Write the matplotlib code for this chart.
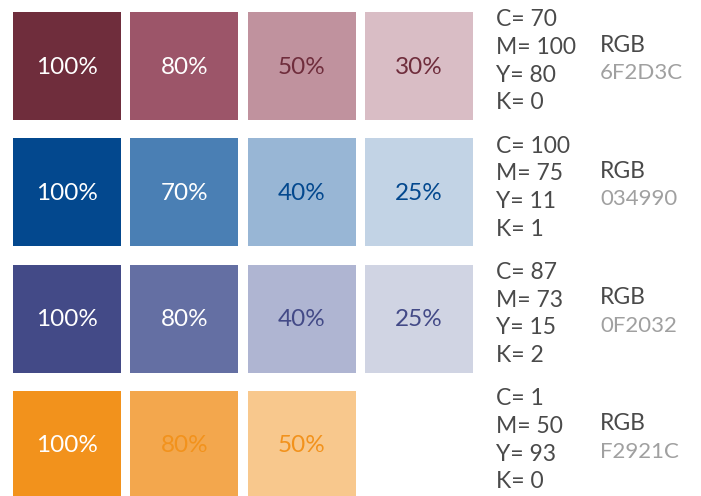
import matplotlib.pyplot as plt
from matplotlib.patches import Rectangle

# swatch colours per row (base colour first, then tints)
swatch_colors = [
    ['#6F2D3C', '#9C5569', '#C0929E', '#D9BDC5'],
    ['#03488E', '#4A7FB4', '#98B6D5', '#C2D3E5'],
    ['#434A87', '#646FA3', '#AFB5D2', '#D0D4E3'],
    ['#F2921C', '#F3A74D', '#F8C88D'],
]
tint_labels = [
    ['100%', '80%', '50%', '30%'],
    ['100%', '70%', '40%', '25%'],
    ['100%', '80%', '40%', '25%'],
    ['100%', '80%', '50%'],
]
label_colors = [
    ['white', 'white', '#6F2D3C', '#6F2D3C'],
    ['white', 'white', '#03488E', '#03488E'],
    ['white', 'white', '#434A87', '#434A87'],
    ['white', '#F2921C', '#F2921C'],
]
cmyk = [
    [70, 100, 80, 0],
    [100, 75, 11, 1],
    [87, 73, 15, 2],
    [1, 50, 93, 0],
]
rgb_codes = ['6F2D3C', '034990', '0F2032', 'F2921C']

W, H = 701, 496
fig = plt.figure(figsize=(W / 100, H / 100), dpi=100)
ax = fig.add_axes([0, 0, 1, 1])
ax.set_xlim(0, W)
ax.set_ylim(H, 0)
ax.axis('off')

font = 'Lato'
x0, col_step, size = 13, 117.3, 108
y0, row_step = 12, 126.3

for r, row in enumerate(swatch_colors):
    top = y0 + r * row_step
    for c, col in enumerate(row):
        left = x0 + c * col_step
        ax.add_patch(Rectangle((left, top), size, size, color=col, lw=0))
        ax.text(left + size / 2, top + size / 2 + 1, tint_labels[r][c],
                ha='center', va='center', fontsize=17.5, family=font,
                color=label_colors[r][c])

    # CMYK block
    for i, (k, v) in enumerate(zip('CMYK', cmyk[r])):
        ax.text(496, top + 8 + i * 27.6, f'{k}= {v}', ha='left', va='center',
                fontsize=16.5, family=font, color='#4a4a4a')
    ax.text(600, top + 33, 'RGB', ha='left', va='center',
            fontsize=16.5, family=font, color='#4a4a4a')
    ax.text(600, top + 61, rgb_codes[r], ha='left', va='center',
            fontsize=16, family=font, color='#a0a0a0')

fig.savefig('out.png', dpi=100)
